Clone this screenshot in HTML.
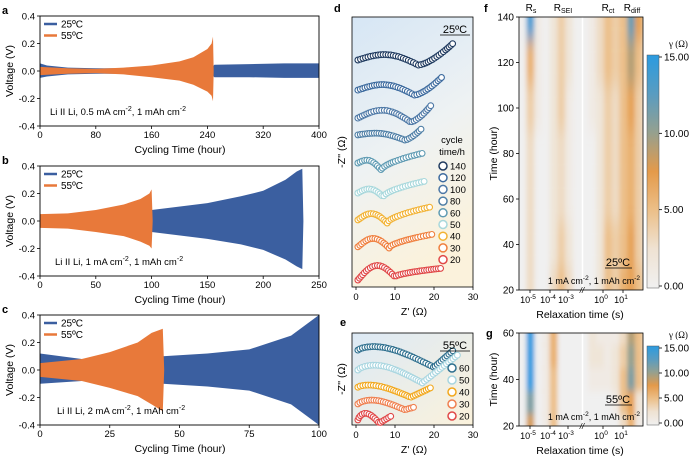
<!DOCTYPE html>
<html><head><meta charset="utf-8"><style>
html,body{margin:0;padding:0;background:#fff;}
svg{display:block;font-family:"Liberation Sans",Arial,sans-serif;}
</style></head><body>
<svg id="fig" width="693" height="458" viewBox="0 0 693 458" xmlns="http://www.w3.org/2000/svg">
<defs>
<linearGradient id="dBg" x1="0" y1="0" x2="0.3" y2="1"><stop offset="0" stop-color="#d6e6f5"/><stop offset="0.55" stop-color="#eef2f3"/><stop offset="1" stop-color="#fbf2dc"/></linearGradient>
<linearGradient id="eBg" x1="0" y1="0" x2="1" y2="1"><stop offset="0" stop-color="#dce9f5"/><stop offset="1" stop-color="#fbf2dc"/></linearGradient>
<linearGradient id="cbar" x1="0" y1="0" x2="0" y2="1"><stop offset="0" stop-color="#2b9be0"/><stop offset="0.17" stop-color="#5a9cc0"/><stop offset="0.33" stop-color="#94a090"/><stop offset="0.5" stop-color="#e49a4a"/><stop offset="0.67" stop-color="#ecc08a"/><stop offset="0.83" stop-color="#efe2d2"/><stop offset="1" stop-color="#f0f0f0"/></linearGradient>
<clipPath id="fClip"><rect x="519" y="17" width="124" height="273"/></clipPath>
<clipPath id="gClip"><rect x="519" y="333" width="124" height="93"/></clipPath>
<filter id="blurF" x="-50%" y="-50%" width="200%" height="200%"><feGaussianBlur stdDeviation="2.5 9"/></filter>
<filter id="blurG" x="-50%" y="-50%" width="200%" height="200%"><feGaussianBlur stdDeviation="2 4"/></filter>
</defs>
</svg>
<script>
// ---------- Voltage data (hours, upper V, lower V) ----------
const aHours25=[0,10,40,80,120,160,200,247,250,300,350,400];
const aUp25=[0.055,0.04,0.025,0.02,0.02,0.02,0.02,0.03,0.045,0.05,0.055,0.055];
const aLo25=[-0.05,-0.04,-0.025,-0.02,-0.02,-0.02,-0.02,-0.03,-0.045,-0.045,-0.05,-0.05];
const aHours55=[0,40,80,120,160,200,220,240,246,248,249];
const aUp55=[0.03,0.02,0.015,0.025,0.04,0.07,0.1,0.16,0.2,0.25,0];
const aLo55=[-0.03,-0.02,-0.015,-0.025,-0.045,-0.07,-0.1,-0.15,-0.18,-0.22,0];
const bHours25=[0,50,100,150,180,200,220,230,235,236];
const bUp25=[0.03,0.045,0.08,0.13,0.18,0.22,0.3,0.36,0.38,0];
const bLo25=[-0.03,-0.045,-0.08,-0.13,-0.17,-0.21,-0.28,-0.33,-0.35,0];
const bHours55=[0,25,50,75,90,98,100,101];
const bUp55=[0.05,0.055,0.08,0.12,0.16,0.2,0.23,0];
const bLo55=[-0.05,-0.055,-0.08,-0.11,-0.15,-0.18,-0.2,0];
const cHours25=[0,15,30,44,60,75,90,100];
const cUp25=[0.12,0.08,0.09,0.1,0.12,0.15,0.25,0.4];
const cLo25=[-0.1,-0.08,-0.08,-0.1,-0.12,-0.15,-0.25,-0.4];
const cHours55=[0,15,25,35,40,44,44.5];
const cUp55=[0.05,0.08,0.13,0.2,0.27,0.3,0];
const cLo55=[-0.05,-0.08,-0.13,-0.19,-0.25,-0.3,0];
const vTicks=[0.4,0.2,0.0,-0.2,-0.4];
const vTickLabels=["0.4","0.2","0.0","-0.2","-0.4"];
// ---------- Nyquist d (25C) ----------
const dCycles=[140,120,100,80,60,50,40,30,20];
const dStart=[58.2,50.5,43.3,39,31.8,24.1,17.2,10.3,1.8];
const dArcH=[2,2,2.5,1,1.5,1.5,2,2.3,3.3];
const dDrop=[1.3,1.3,1,1.3,1.8,1,0.8,0.3,-0.8];
const dArcEnd=[16,15,14,12.5,6.5,7,8,8.5,10];
const dTailEnd=[25,22,19.5,17,17.5,18,19,20,22];
const dTailRise=[4.4,3.3,3.6,1.8,2.6,3.1,3.3,3.3,3];
const dColors=["#1f3a5f","#3c6a9e","#4d78a6","#4f7fa6","#5f9bb3","#a8d8dc","#f2b233","#ef7f3e","#e04848"];
// ---------- Nyquist e (55C) ----------
const eCycles=[60,50,40,30,20];
const eStart=[19.2,14.1,9.7,5.4,1.3];
const eArcH=[2.2,2.3,1.3,1.5,2];
const eDrop=[4.4,3.3,2.6,1.5,0.8];
const eArcEnd=[20,17,14,12.5,6];
const eTailEnd=[25,26,19.5,15,9];
const eTailRise=[0,3.8,0,-0.8,1];
const eColors=["#2e6f8e","#a9d6e0","#f2a81d","#ef7f4f","#e04848"];
// ---------- DRT heatmaps ----------
const fTimes=[140,120,100,80,60,40,20];
const fVals=[
[0,14,1,0,2,4,2,0,0,1,3,5,4,5,12,7],
[0,6,1,0,2,4,2,0,0,1,3,5,4,5,9,5],
[0,4,1,0,2,4,1,0,0,1,2,4,3,5,7,4],
[0,3,0,0,2,3,1,0,0,0,2,4,3,5,6,4],
[0,3,0,0,2,3,1,0,0,0,2,4,3,5,6,4],
[0,3,0,0,2,4,2,0,0,0,2,5,4,5,7,4],
[0,3,0,0,3,5,3,0,0,0,2,5,4,6,7,5]];
const gTimes=[60,50,40,30,20];
const gVals=[
[0,15,0,1,6,0,0,0,0,2,1,1,1,3,9,5],
[0,15,0,1,6,0,0,0,0,2,2,1,2,4,10,5],
[0,15,0,1,5,0,0,0,0,1,1,1,2,5,11,5],
[0,11,0,1,5,0,0,0,0,0,0,0,1,5,7,2],
[0,8,0,1,5,0,0,0,0,0,0,0,0,3,6,1]];
const cbTicks=[15,10,5,0];
const cbLabels=["15.00","10.00","5.00","0.00"];

const NS="http://www.w3.org/2000/svg";
const svg=document.getElementById("fig");
function mk(tag,attrs,parent,text){const e=document.createElementNS(NS,tag);for(const k in attrs)e.setAttribute(k,attrs[k]);if(text!==undefined)e.innerHTML=text;(parent||svg).appendChild(e);return e;}
function lin(d0,d1,r0,r1){return v=>r0+(v-d0)*(r1-r0)/(d1-d0);}
const BLUE="#3b5fa0",ORANGE="#e8793a";

// ---------- voltage panels ----------
const vPanels=[
 {L:"a",top:16,bot:126,xmax:400,xt:[0,80,160,240,320,400],d:[aHours25,aUp25,aLo25,aHours55,aUp55,aLo55],txt:"Li II Li, 0.5 mA cm<tspan dy='-4' font-size='7'>-2</tspan><tspan dy='4'>, 1 mAh cm</tspan><tspan dy='-4' font-size='7'>-2</tspan>",tx:50},
 {L:"b",top:166,bot:276,xmax:250,xt:[0,50,100,150,200,250],d:[bHours25,bUp25,bLo25,bHours55,bUp55,bLo55],txt:"Li II Li, 1 mA cm<tspan dy='-4' font-size='7'>-2</tspan><tspan dy='4'>, 1 mAh cm</tspan><tspan dy='-4' font-size='7'>-2</tspan>",tx:55},
 {L:"c",top:315,bot:425,xmax:100,xt:[0,25,50,75,100],d:[cHours25,cUp25,cLo25,cHours55,cUp55,cLo55],txt:"Li II Li, 2 mA cm<tspan dy='-4' font-size='7'>-2</tspan><tspan dy='4'>, 1 mAh cm</tspan><tspan dy='-4' font-size='7'>-2</tspan>",tx:57}
];
vPanels.forEach(p=>{
 const g=mk("g",{});
 
 
 const xs=lin(0,p.xmax,40,319), ys=lin(0.4,-0.4,p.top,p.bot);
 [[0,BLUE,"series-25c"],[3,ORANGE,"series-55c"]].forEach(([o,col,nm])=>{
  const t=p.d[o],up=p.d[o+1],lo=p.d[o+2];
  const pts=[];
  for(let i=0;i<t.length;i++)pts.push(xs(t[i]).toFixed(1)+","+ys(Math.min(up[i],0.42)).toFixed(1));
  for(let i=t.length-1;i>=0;i--)pts.push(xs(t[i]).toFixed(1)+","+ys(Math.max(lo[i],-0.42)).toFixed(1));
  const poly=mk("polygon",{points:pts.join(" "),fill:col},g);
  
  
 });
 const box=mk("rect",{x:40,y:p.top,width:279,height:p.bot-p.top,fill:"none",stroke:"#000","stroke-width":0.9},g);
 
 
 vTicks.forEach((v,i)=>{
  mk("line",{x1:37,x2:40,y1:ys(v),y2:ys(v),stroke:"#000","stroke-width":0.8},g);
  const tl=mk("text",{x:35,y:ys(v)+3.5,"font-size":9.5,"text-anchor":"end"},g,vTickLabels[i]);
  
  
 });
 p.xt.forEach(v=>{
  mk("line",{x1:xs(v),x2:xs(v),y1:p.bot,y2:p.bot+3,stroke:"#000","stroke-width":0.8},g);
  const tl=mk("text",{x:xs(v),y:p.bot+12,"font-size":9.5,"text-anchor":"middle"},g,String(v));
  
  
 });
 const xt=mk("text",{x:180,y:p.bot+27,"font-size":10.5,"text-anchor":"middle"},g,"Cycling Time (hour)");
 
 
 const yt=mk("text",{x:0,y:0,"font-size":10.5,"text-anchor":"middle",transform:`translate(13,${(p.top+p.bot)/2}) rotate(-90)`},g,"Voltage (V)");
 
 
 const pl=mk("text",{x:2,y:p.top-2,"font-size":11,"font-weight":"bold"},g,p.L);
 
 
 [[BLUE,"25ºC",8],[ORANGE,"55ºC",19.5]].forEach(([c,l,dy])=>{
  const ln=mk("line",{x1:44,x2:57,y1:p.top+dy,y2:p.top+dy,stroke:c,"stroke-width":2.5},g);
  
  
  const lt=mk("text",{x:61,y:p.top+dy+3.5,"font-size":10},g,l);
  
  
 });
 const nt=mk("text",{x:p.tx,y:p.bot-11,"font-size":9.5},g,p.txt);
 
 
});

// ---------- Nyquist ----------
function nyquist(cfg){
 const g=mk("g",{});
 
 
 const bg=mk("rect",{x:352,y:cfg.top,width:121,height:cfg.bot-cfg.top,fill:cfg.bg,stroke:"#000","stroke-width":0.8},g);
 
 
 const xs=lin(0,30,356,473), ys=v=>cfg.bot-v*3.9;
 cfg.start.forEach((y0,i)=>{
  const h=cfg.h[i],d=cfg.drop[i],ae=cfg.ae[i],te=cfg.te[i],tr=cfg.tr[i],ex=cfg.exp(i);
  const pts=[];
  for(let k=0;k<=120;k++){const t=k/120;const s=cfg.skew?Math.pow(t,0.75):t;pts.push([xs(0.5+(ae-0.5)*t),ys(y0+h*Math.sin(Math.PI*s)-d*t)]);}
  for(let k=1;k<=80;k++){const t=k/80;pts.push([xs(ae+(te-ae)*t),ys(y0-d+(tr+d)*Math.pow(t,ex))]);}
  const cg=mk("g",{},g);
  
  
  let acc=99,last=null;
  pts.forEach(pt=>{
   if(last){acc+=Math.hypot(pt[0]-last[0],pt[1]-last[1]);}
   last=pt;
   if(acc>=2.3){acc=0;
    const c=mk("circle",{cx:pt[0].toFixed(1),cy:pt[1].toFixed(1),r:2.9,fill:"#fff",stroke:cfg.col[i],"stroke-width":1.1},cg);
    
    
   }
  });
 });
 [0,10,20,30].forEach(v=>{
  mk("line",{x1:xs(v),x2:xs(v),y1:cfg.bot,y2:cfg.bot+3,stroke:"#000","stroke-width":0.8},g);
  const t=mk("text",{x:xs(v),y:cfg.bot+13,"font-size":9.5,"text-anchor":"middle"},g,String(v));
  
  
 });
 const xt=mk("text",{x:414,y:cfg.bot+28,"font-size":10.5,"text-anchor":"middle"},g,"Z' (Ω)");
 
 
 const yt=mk("text",{x:0,y:0,"font-size":10.5,"text-anchor":"middle",transform:`translate(345,${(cfg.top+cfg.bot)/2}) rotate(-90)`},g,"-Z'' (Ω)");
 
 
 const tt=mk("text",{x:cfg.tempX,y:cfg.top+16,"font-size":11,"text-anchor":"middle"},g,cfg.temp);
 
 
 mk("line",{x1:cfg.tempX-15,x2:cfg.tempX+15,y1:cfg.top+18,y2:cfg.top+18,stroke:"#000","stroke-width":0.8},g);
 const pl=mk("text",{x:cfg.lx,y:cfg.ly,"font-size":11,"font-weight":"bold"},g,cfg.L);
 
 
 cfg.cyc.forEach((c,i)=>{
  const y=cfg.legY+i*cfg.legStep;
  const cc=mk("circle",{cx:cfg.legX,cy:y,r:4,fill:"#fff",stroke:cfg.col[i],"stroke-width":1.5},g);
  
  
  const lt=mk("text",{x:cfg.legX+7,y:y+3.5,"font-size":9.5},g,String(c));
  
  
 });
}
nyquist({name:"nyquist-25c",L:"d",lx:334,ly:12,top:17,bot:287,bg:"url(#dBg)",start:dStart,h:dArcH,drop:dDrop,ae:dArcEnd,te:dTailEnd,tr:dTailRise,col:dColors,cyc:dCycles,exp:i=>i<4?1.5:0.6,temp:"25ºC",tempX:455,legX:443,legY:166,legStep:11.7});
nyquist({name:"nyquist-55c",L:"e",lx:340,ly:326,top:333,bot:425,bg:"url(#eBg)",skew:true,start:eStart,h:eArcH,drop:eDrop,ae:eArcEnd,te:eTailEnd,tr:eTailRise,col:eColors,cyc:eCycles,exp:i=>1,temp:"55ºC",tempX:455,legX:452,legY:368,legStep:12});
(function(){const a=mk("text",{x:452,y:143,"font-size":9.5,"text-anchor":"middle"},svg,"cycle");


const b=mk("text",{x:452,y:155,"font-size":9.5,"text-anchor":"middle"},svg,"time/h");

})();

// ---------- DRT heatmaps ----------
const stops=[[0,[240,240,240]],[2.5,[239,226,210]],[5,[236,192,138]],[7.5,[228,154,74]],[10,[148,160,144]],[12.5,[90,156,192]],[15,[43,155,224]]];
function cmap(v){for(let i=1;i<stops.length;i++){if(v<=stops[i][0]){const [a,ca]=stops[i-1],[b,cb]=stops[i];const t=(v-a)/(b-a);return "rgb("+ca.map((x,k)=>Math.round(x+(cb[k]-x)*t)).join(",")+")";}}return "rgb(43,155,224)";}
function heat(cfg){
 const g=mk("g",{});
 
 
 const ys=lin(cfg.tmin,cfg.tmax,cfg.bot,cfg.top);
 const hg=mk("g",{"clip-path":cfg.clip},g);
 mk("rect",{x:519,y:cfg.top,width:124,height:cfg.bot-cfg.top,fill:cmap(0)},hg);
 const bl=mk("g",{filter:cfg.filter},hg);
 const cw=124/16, step=cfg.times[0]-cfg.times[1];
 cfg.times.forEach((t,r)=>{
  cfg.vals[r].forEach((v,c)=>{
   let y0=ys(t+step/2),y1=ys(t-step/2);
   if(r===0)y0-=20; if(r===cfg.times.length-1)y1+=20;
   const cell=mk("rect",{x:519+c*cw-0.3,y:y0,width:cw+0.6,height:y1-y0,fill:cmap(v)},bl);
   
   
  });
 });
 mk("line",{x1:582.5,x2:582.5,y1:cfg.top,y2:cfg.bot,stroke:"#fff","stroke-width":1.6},hg);
 const fr=mk("rect",{x:519,y:cfg.top,width:124,height:cfg.bot-cfg.top,fill:"none",stroke:"#000","stroke-width":0.8},g);
 
 
 cfg.yt.forEach(v=>{
  mk("line",{x1:516,x2:519,y1:ys(v),y2:ys(v),stroke:"#000","stroke-width":0.8},g);
  const t=mk("text",{x:514,y:ys(v)+3.5,"font-size":10,"text-anchor":"end"},g,String(v));
  
  
 });
 [["-5",530],["-4",550],["-3",568],["0",603],["1",623]].forEach(([e,x])=>{
  mk("line",{x1:x,x2:x,y1:cfg.bot,y2:cfg.bot+3,stroke:"#000","stroke-width":0.8},g);
  const t=mk("text",{x:x-2,y:cfg.bot+13,"font-size":9,"text-anchor":"middle"},g,"10<tspan dy='-4' font-size='6.5'>"+e+"</tspan>");
  
  
 });
 const br=mk("text",{x:582,y:cfg.bot+3,"font-size":8,"text-anchor":"middle","font-style":"italic"},g,"//");
 
 
 const xt=mk("text",{x:580,y:cfg.bot+28,"font-size":10.5,"text-anchor":"middle"},g,"Relaxation time  (s)");
 
 
 const yt=mk("text",{x:0,y:0,"font-size":10.5,"text-anchor":"middle",transform:`translate(497,${(cfg.top+cfg.bot)/2}) rotate(-90)`},g,"Time (hour)");
 
 
 const tt=mk("text",{x:618,y:cfg.tempY,"font-size":11,"text-anchor":"middle"},g,cfg.temp);
 
 
 mk("line",{x1:605,x2:632,y1:cfg.tempY+2,y2:cfg.tempY+2,stroke:"#000","stroke-width":0.8},g);
 const ct=mk("text",{x:640,y:cfg.bot-6,"font-size":9,"text-anchor":"end"},g,"1 mA cm<tspan dy='-4' font-size='6.5'>-2</tspan><tspan dy='4'>, 1 mAh cm</tspan><tspan dy='-4' font-size='6.5'>-2</tspan>");
 
 
 const pl=mk("text",{x:cfg.lx,y:cfg.ly,"font-size":11,"font-weight":"bold"},g,cfg.L);
 
 
 // colorbar
 const cb=mk("rect",{x:647,y:cfg.cbTop,width:12,height:cfg.cbBot-cfg.cbTop,fill:"url(#cbar)",stroke:"#555","stroke-width":0.5},g);
 
 
 const cs=lin(15,0,cfg.cbTop+2,cfg.cbBot-2);
 cbTicks.forEach((v,i)=>{
  mk("line",{x1:659,x2:662,y1:cs(v),y2:cs(v),stroke:"#000","stroke-width":0.8},g);
  const t=mk("text",{x:664,y:cs(v)+3.5,"font-size":10},g,cbLabels[i]);
  
  
 });
 const ctl=mk("text",{x:669,y:cfg.cbTop-8,"font-size":9,"font-family":"Liberation Serif, serif"},g,"γ (Ω)");
 
 
}
heat({name:"drt-heatmap-25c",L:"f",lx:484,ly:12,top:17,bot:290,tmin:20,tmax:140,times:fTimes,vals:fVals,clip:"url(#fClip)",filter:"url(#blurF)",yt:[20,40,60,80,100,120,140],temp:"25ºC",tempY:266,cbTop:55,cbBot:288});
heat({name:"drt-heatmap-55c",L:"g",lx:486,ly:337,top:333,bot:426,tmin:20,tmax:60,times:gTimes,vals:gVals,clip:"url(#gClip)",filter:"url(#blurG)",yt:[20,40,60],temp:"55ºC",tempY:403,cbTop:346,cbBot:425});
[["R<tspan dy='2' font-size='7'>s</tspan>",531],["R<tspan dy='2' font-size='7'>SEI</tspan>",563],["R<tspan dy='2' font-size='7'>ct</tspan>",608],["R<tspan dy='2' font-size='7'>diff</tspan>",632]].forEach(([l,x])=>{
 const t=mk("text",{x:x,y:11,"font-size":10,"text-anchor":"middle"},svg,l);
 
 
});
</script>
</body></html>
